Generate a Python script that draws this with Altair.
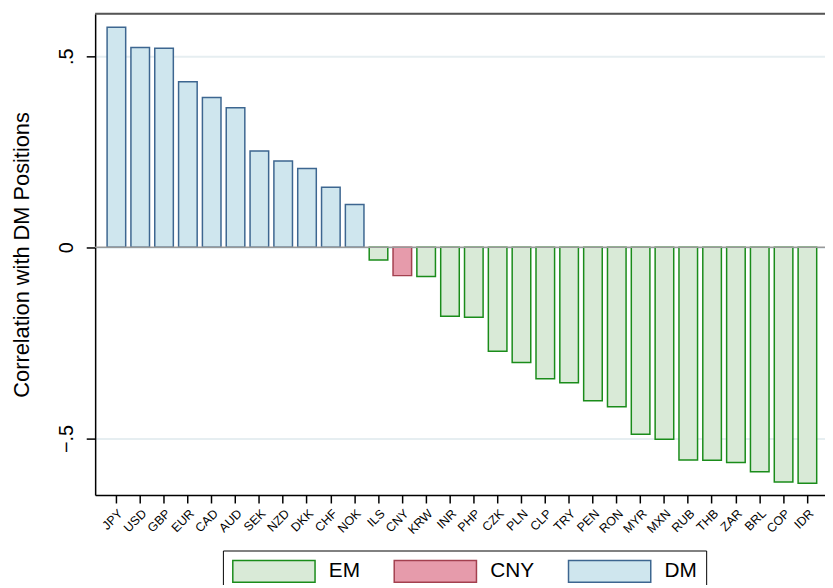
import altair as alt
import pandas as pd

currencies = ["JPY", "USD", "GBP", "EUR", "CAD", "AUD", "SEK", "NZD", "DKK", "CHF", "NOK",
              "ILS", "CNY", "KRW", "INR", "PHP", "CZK", "PLN", "CLP", "TRY", "PEN", "RON",
              "MYR", "MXN", "RUB", "THB", "ZAR", "BRL", "COP", "IDR"]
correlations = [0.576, 0.523, 0.521, 0.433, 0.392, 0.365, 0.252, 0.226, 0.206, 0.157, 0.112,
                -0.033, -0.074, -0.076, -0.180, -0.183, -0.272, -0.301, -0.344, -0.354, -0.401,
                -0.417, -0.489, -0.502, -0.556, -0.557, -0.563, -0.587, -0.614, -0.617]
groups = ["DM"] * 11 + ["EM", "CNY"] + ["EM"] * 17

legend_order = ["EM", "CNY", "DM"]
fill_colors = ["#d9ead7", "#e69bab", "#cfe6ee"]
stroke_colors = ["#1a8c1a", "#a3404f", "#3d6690"]

ytick_values = [-0.5, 0, 0.5]
ytick_labels = ["\u2212.5", "0", ".5"]
y_domain = [-0.648, 0.611]

df = pd.DataFrame({"currency": currencies, "corr": correlations, "group": groups})

W, H = 737, 486
FONT = "Liberation Sans"

label_expr = " : ".join(
    f"datum.value == {v} ? '{l}'" for v, l in zip(ytick_values, ytick_labels)
) + " : ''"

x_enc = alt.X("currency:N", sort=currencies, title=None,
              scale=alt.Scale(paddingInner=0.22, paddingOuter=0.425, align=0.59),
              axis=alt.Axis(labelAngle=315, labelAlign="right", labelBaseline="top",
                            labelFontSize=12.5, labelColor="black",
                            labelFont=FONT, tickSize=8, tickColor="black", tickWidth=1.5,
                            domainColor="black", domainWidth=1.5, labelPadding=4,
                            grid=False))
y_enc = alt.Y("corr:Q", title="Correlation with DM Positions",
              scale=alt.Scale(domain=y_domain, nice=False, zero=False),
              axis=alt.Axis(values=ytick_values, labelExpr=label_expr, labelAngle=270,
                            labelAlign="center", labelBaseline="alphabetic",
                            labelFontSize=20, labelFont=FONT, labelColor="black",
                            labelPadding=14, tickSize=9, tickColor="black", tickWidth=1.5,
                            domainColor="black", domainWidth=1.5,
                            grid=True, gridColor="#e6eef1", gridWidth=2,
                            titleFontSize=22, titleFont=FONT, titleFontWeight="normal",
                            titleColor="black", titlePadding=23))

# symbol: 83 x 22 px rectangle; layout size is 22 px, path extends to the right
legend = alt.Legend(title=None, orient="none", legendX=129, legendY=542,
                    direction="horizontal",
                    symbolType="M-1,-1L6.55,-1L6.55,1L-1,1Z",
                    symbolSize=484, symbolStrokeWidth=1.5,
                    labelFontSize=21, labelFont=FONT, labelColor="black",
                    labelOffset=74, columnPadding=31,
                    strokeColor="black", padding=9, fillColor="white")

bars = alt.Chart(df).mark_bar(strokeWidth=1.5).encode(
    x=x_enc,
    y=y_enc,
    fill=alt.Fill("group:N", sort=legend_order,
                  scale=alt.Scale(domain=legend_order, range=fill_colors), legend=legend),
    stroke=alt.Stroke("group:N", sort=legend_order,
                      scale=alt.Scale(domain=legend_order, range=stroke_colors), legend=legend),
)

zero_line = alt.Chart(pd.DataFrame({"y": [0]})).mark_rule(color="#999999", strokeWidth=1.5).encode(
    y=alt.Y("y:Q")
)

top_frame = alt.Chart(pd.DataFrame({"y": [y_domain[1]]})).mark_rule(color="#555555", strokeWidth=2).encode(
    y=alt.Y("y:Q")
)

chart = alt.layer(bars, zero_line, top_frame).properties(
    width=W, height=H,
    autosize=alt.AutoSizeParams(type="none"),
    padding={"left": 88, "top": 3, "right": 0, "bottom": 88},
).configure_view(stroke=None).configure(background="white")

chart.save("out.html", embed_options={"renderer": "svg", "actions": False})
